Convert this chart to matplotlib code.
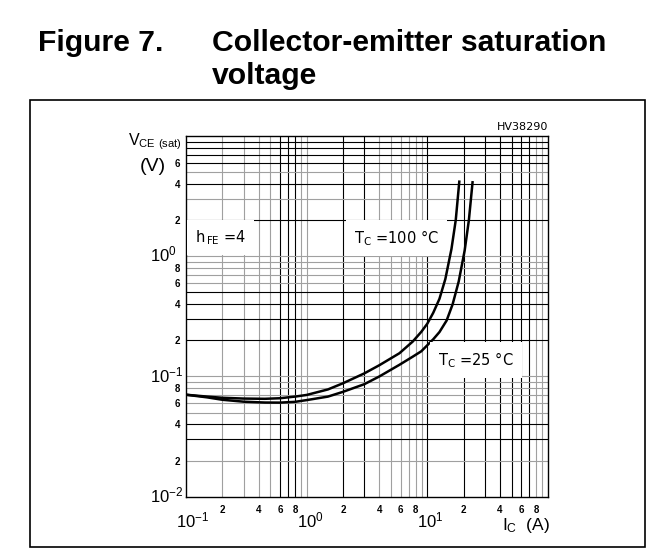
import matplotlib.pyplot as plt
import matplotlib.transforms as mtransforms
from matplotlib.patches import Rectangle

plt.rcParams['font.family'] = ['Liberation Sans', 'DejaVu Sans']
plt.rcParams['mathtext.default'] = 'regular'

# collector current (A) and VCE(sat) (V)
ic_100 = [0.1, 0.15, 0.2, 0.3, 0.45, 0.6, 0.8, 1.0, 1.5, 2.0, 3.0, 4.0, 5.87, 7.56,
          8.91, 10.0, 11.2, 12.6, 14.1, 15.85, 17.2, 18.4]
vce_100 = [0.0705, 0.068, 0.0665, 0.0655, 0.0652, 0.0659, 0.068, 0.0702, 0.078, 0.0878,
           0.106, 0.124, 0.156, 0.195, 0.235, 0.275, 0.339, 0.442, 0.646, 1.15, 2.0, 4.17]

ic_25 = [0.1, 0.15, 0.2, 0.3, 0.45, 0.6, 0.8, 1.0, 1.5, 2.0, 3.0, 4.0, 5.87, 7.56,
         8.91, 10.0, 11.2, 12.6, 14.45, 16.2, 18.2, 20.4, 22.1, 23.7]
vce_25 = [0.0705, 0.067, 0.064, 0.0617, 0.0607, 0.0606, 0.0615, 0.0636, 0.068, 0.0745,
          0.0862, 0.100, 0.125, 0.146, 0.162, 0.182, 0.204, 0.234, 0.292, 0.398, 0.617,
          1.12, 2.0, 4.12]

decades = [0.1, 1, 10]
steps = [1, 2, 3, 4, 5, 6, 7, 8, 9]

x_major = [0.1, 1, 10]
x_major_labels = ['$10^{-1}$', '$10^{0}$', '$10^{1}$']
x_minor = [d * m for d in [0.1, 1, 10] for m in [2, 4, 6, 8]]
x_minor_labels = ['2', '4', '6', '8'] * 3

y_major = [0.01, 0.1, 1]
y_major_labels = ['$10^{-2}$', '$10^{-1}$', '$10^{0}$']
y_minor = [0.02, 0.04, 0.06, 0.08, 0.2, 0.4, 0.6, 0.8, 2, 4, 6]
y_minor_labels = ['2', '4', '6', '8', '2', '4', '6', '8', '2', '4', '6']

# grid lines that print lighter in the scan
x_gray = [0.2, 0.3, 0.4, 0.5, 0.9, 1, 4, 5, 6, 7, 8, 9, 80, 90]
y_gray = [0.02, 0.05, 0.06, 0.07, 0.08, 0.09, 0.1, 0.6, 0.7, 0.8, 0.9, 1, 3, 5]

fig = plt.figure(figsize=(6.51, 5.52), dpi=100)
ax = fig.add_axes([186 / 651, 1 - 496.7 / 552, 362 / 651, 360.7 / 552])
ax.set_xscale('log')
ax.set_yscale('log')
ax.set_xlim(0.1, 100)
ax.set_ylim(0.01, 10)

for d in decades:
    for m in steps:
        v = round(d * m, 4)
        if 0.1 < v < 100:
            c = '#a0a0a0' if v in x_gray else 'black'
            ax.axvline(v, color=c, lw=0.8, zorder=1)
for d in [0.01, 0.1, 1]:
    for m in steps:
        v = round(d * m, 4)
        if 0.01 < v < 10:
            c = '#a0a0a0' if v in y_gray else 'black'
            ax.axhline(v, color=c, lw=0.8, zorder=1)

ax.plot(ic_100, vce_100, color='black', lw=1.8, zorder=3, solid_joinstyle='round')
ax.plot(ic_25, vce_25, color='black', lw=1.8, zorder=3, solid_joinstyle='round')

box = dict(facecolor='white', edgecolor='none', boxstyle='square,pad=0.55')
ax.text(0.1187, 1.315, 'h$_{\\,FE}$ =4', fontsize=10.5, family='DejaVu Sans',
        va='baseline', bbox=box, zorder=4)
ax.text(2.49, 1.29, 'T$_C$ =100 °C', fontsize=10.5, family='DejaVu Sans',
        va='baseline', bbox=box, zorder=4)
ax.text(12.3, 0.1246, 'T$_C$ =25 °C', fontsize=10.5, family='DejaVu Sans',
        va='baseline', bbox=box, zorder=4)

ax.set_xticks(x_major)
ax.set_xticklabels(x_major_labels, fontsize=12)
ax.set_xticks(x_minor, minor=True)
ax.set_xticklabels(x_minor_labels, minor=True, fontsize=7, weight='bold')
ax.set_yticks(y_major)
ax.set_yticklabels(y_major_labels, fontsize=12)
ax.set_yticks(y_minor, minor=True)
ax.set_yticklabels(y_minor_labels, minor=True, fontsize=7, weight='bold')
ax.tick_params(which='both', length=0)
ax.tick_params(axis='x', which='minor', pad=6)
ax.tick_params(axis='x', which='major', pad=10)
ax.tick_params(axis='y', which='minor', pad=4)
ax.tick_params(axis='y', which='major', pad=26)

shift_x = mtransforms.ScaledTranslation(-0.10, 0, fig.dpi_scale_trans)
for lab in ax.get_xticklabels():
    lab.set_ha('left')
    lab.set_transform(lab.get_transform() + shift_x)
shift_y = mtransforms.ScaledTranslation(0, 0.03, fig.dpi_scale_trans)
for lab in ax.get_yticklabels():
    lab.set_ha('left')
    lab.set_transform(lab.get_transform() + shift_y)

for s in ax.spines.values():
    s.set_linewidth(1.0)

ax.text(1.0, 1.012, 'HV38290', transform=ax.transAxes, ha='right', va='bottom',
        fontsize=8, family='DejaVu Sans')

# axis titles
fig.text(128 / 651, 1 - 145 / 552, 'V$_{CE\\ (sat)}$', fontsize=11.5, va='baseline')
fig.text(140 / 651, 1 - 171 / 552, '(V)', fontsize=14, va='baseline')
fig.text(502 / 651, 1 - 530 / 552, 'I$_C$  (A)', fontsize=12.5, va='baseline')

# figure caption and frame
fig.text(38 / 651, 1 - 51 / 552, 'Figure 7.', fontsize=21.7, weight='bold', va='baseline')
fig.text(212 / 651, 1 - 51 / 552, 'Collector-emitter saturation', fontsize=21.7,
         weight='bold', va='baseline')
fig.text(212 / 651, 1 - 84 / 552, 'voltage', fontsize=21.7, weight='bold', va='baseline')
fig.add_artist(Rectangle((30 / 651, 1 - 547 / 552), 615 / 651, 447 / 552, fill=False,
                         lw=1.2, edgecolor='black', transform=fig.transFigure))

fig.savefig('out.png', dpi=100)
